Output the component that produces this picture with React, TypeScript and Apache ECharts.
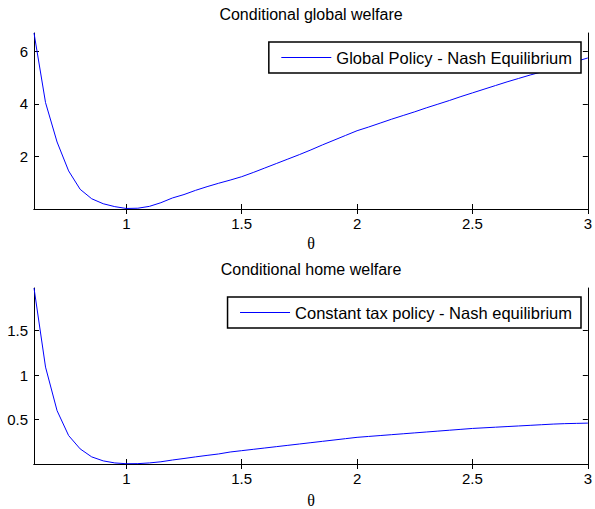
import React, { useEffect, useRef } from "react";
import * as echarts from "echarts";

const theta = [
  0.6, 0.65, 0.7, 0.75, 0.8, 0.85, 0.9, 0.95, 1.0, 1.05, 1.1, 1.15, 1.2, 1.25, 1.3, 1.35, 1.4,
  1.45, 1.5, 1.55, 1.6, 1.65, 1.7, 1.75, 1.8, 1.85, 1.9, 1.95, 2.0, 2.05, 2.1, 2.15, 2.2, 2.25,
  2.3, 2.35, 2.4, 2.45, 2.5, 2.55, 2.6, 2.65, 2.7, 2.75, 2.8, 2.85, 2.9, 2.95, 3.0,
];

const globalWelfare = [
  6.7, 4.05, 2.55, 1.45, 0.75, 0.39, 0.2, 0.09, 0.02, 0.03, 0.1, 0.24, 0.42, 0.55, 0.71, 0.85,
  0.98, 1.1, 1.23, 1.39, 1.56, 1.73, 1.9, 2.07, 2.25, 2.44, 2.62, 2.8, 2.98, 3.12, 3.27, 3.42,
  3.56, 3.7, 3.85, 3.99, 4.13, 4.28, 4.42, 4.56, 4.7, 4.84, 4.97, 5.1, 5.22, 5.35, 5.49, 5.62,
  5.75,
];

const homeWelfare = [
  1.98, 1.09, 0.6, 0.32, 0.17, 0.08, 0.035, 0.012, 0.003, 0.004, 0.012, 0.025, 0.045, 0.062,
  0.08, 0.097, 0.113, 0.135, 0.15, 0.165, 0.18, 0.195, 0.21, 0.225, 0.24, 0.255, 0.27, 0.285,
  0.3, 0.31, 0.32, 0.33, 0.34, 0.35, 0.36, 0.37, 0.38, 0.39, 0.4, 0.407, 0.414, 0.421, 0.428,
  0.435, 0.442, 0.449, 0.454, 0.457, 0.46,
];

const xTicks = [1, 1.5, 2, 2.5, 3];
const yTicksTop = [2, 4, 6];
const yTicksBottom = [0.5, 1, 1.5];

const titles = ["Conditional global welfare", "Conditional home welfare"];
const seriesNames = ["Global Policy - Nash Equilibrium", "Constant tax policy - Nash equilibrium"];
const xLabel = "θ";

const FONT = "'Liberation Sans', Arial, sans-serif";

function makeAxes(gridIndex: number, ymax: number, yTicks: number[]) {
  const common = {
    gridIndex,
    type: "value" as const,
    axisLine: { show: true, lineStyle: { color: "#000", width: 1 } },
    splitLine: { show: false },
  };
  const xs = [
    {
      ...common,
      position: "bottom",
      min: 0.6,
      max: 3,
      axisTick: { show: true, inside: true, length: 5, customValues: xTicks, lineStyle: { color: "#000" } },
      axisLabel: { show: true, customValues: xTicks, color: "#000", fontSize: 15, fontFamily: FONT, margin: 7 },
    },
    {
      ...common,
      position: "top",
      min: 0.6,
      max: 3,
      axisTick: { show: true, inside: true, length: 5, customValues: xTicks, lineStyle: { color: "#000" } },
      axisLabel: { show: false },
    },
  ];
  const ys = [
    {
      ...common,
      position: "left",
      min: 0,
      max: ymax,
      axisTick: { show: true, inside: true, length: 5, customValues: yTicks, lineStyle: { color: "#000" } },
      axisLabel: { show: true, customValues: yTicks, color: "#000", fontSize: 15, fontFamily: FONT, margin: 6 },
    },
    {
      ...common,
      position: "right",
      min: 0,
      max: ymax,
      axisTick: { show: true, inside: true, length: 5, customValues: yTicks, lineStyle: { color: "#000" } },
      axisLabel: { show: false },
    },
  ];
  return { xs, ys };
}

export default function App() {
  const ref = useRef<HTMLDivElement>(null);
  useEffect(() => {
    document.body.style.margin = "0";
    if (!ref.current) return;
    const chart = echarts.init(ref.current, undefined, { renderer: "svg" });
    const a0 = makeAxes(0, 6.7, yTicksTop);
    const a1 = makeAxes(1, 1.98, yTicksBottom);
    const top = globalWelfare.map((v, i) => [theta[i], v]);
    const bottom = homeWelfare.map((v, i) => [theta[i], v]);
    const legendCommon = {
      orient: "horizontal",
      right: 14,
      itemWidth: 50,
      itemHeight: 14,
      padding: [7, 9, 7, 12],
      borderColor: "#000",
      borderWidth: 1.5,
      backgroundColor: "#fff",
      itemStyle: { opacity: 0 },
      lineStyle: { color: "#0000ff", width: 1 },
      textStyle: { color: "#000", fontSize: 16.5, fontFamily: FONT },
      selectedMode: false,
    };
    chart.setOption({
      animation: false,
      backgroundColor: "#fff",
      grid: [
        { left: 34, top: 33, width: 554, height: 176 },
        { left: 34, top: 288, width: 554, height: 176 },
      ],
      xAxis: [...a0.xs, ...a1.xs],
      yAxis: [...a0.ys, ...a1.ys],
      legend: [
        { ...legendCommon, top: 42, data: [seriesNames[0]] },
        { ...legendCommon, top: 297, data: [seriesNames[1]] },
      ],
      series: [
        {
          name: seriesNames[0],
          type: "line",
          xAxisIndex: 0,
          yAxisIndex: 0,
          data: top,
          showSymbol: false,
          symbol: "none",
          lineStyle: { color: "#0000ff", width: 1 },
          itemStyle: { color: "#0000ff" },
        },
        {
          name: seriesNames[1],
          type: "line",
          xAxisIndex: 2,
          yAxisIndex: 2,
          data: bottom,
          showSymbol: false,
          symbol: "none",
          lineStyle: { color: "#0000ff", width: 1 },
          itemStyle: { color: "#0000ff" },
        },
      ],
      graphic: [
        { type: "text", x: 311, y: 14, style: { text: titles[0], textAlign: "center", textVerticalAlign: "middle", font: `16px ${FONT}`, fill: "#000" } },
        { type: "text", x: 311, y: 269.5, style: { text: titles[1], textAlign: "center", textVerticalAlign: "middle", font: `16px ${FONT}`, fill: "#000" } },
        { type: "text", x: 311, y: 243, style: { text: xLabel, textAlign: "center", textVerticalAlign: "middle", font: `16px 'Liberation Serif', 'Times New Roman', serif`, fill: "#000" } },
        { type: "text", x: 311, y: 500, style: { text: xLabel, textAlign: "center", textVerticalAlign: "middle", font: `16px 'Liberation Serif', 'Times New Roman', serif`, fill: "#000" } },
      ],
    });
    return () => chart.dispose();
  }, []);
  return <div ref={ref} style={{ width: 595, height: 509, position: "absolute", left: 0, top: 0 }} />;
}
